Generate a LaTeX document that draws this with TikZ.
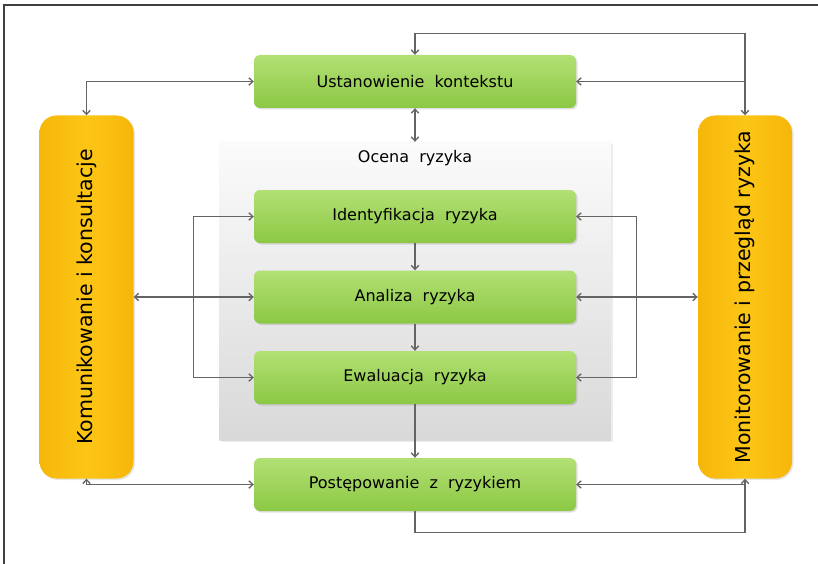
\documentclass[tikz,border=0pt]{standalone}
\usepackage{fontspec}
\setmainfont{DejaVu Sans}
\usetikzlibrary{arrows.meta,shadows}
\definecolor{stagetop}{RGB}{178,224,116}
\definecolor{stagebot}{RGB}{140,200,68}
\definecolor{sidemid}{RGB}{252,198,22}
\definecolor{sideedge}{RGB}{246,182,10}
\definecolor{linkgray}{RGB}{100,100,100}
\tikzset{%
  >={Straight Barb[width=2.6mm,length=1.4mm]},
  % Specifications for style of nodes:
            base/.style = {rectangle, draw=none, text=black,
                           text centered},
           stage/.style = {base, rounded corners=6pt,
                           minimum width=322pt, minimum height=53pt,
                           top color=stagetop, bottom color=stagebot,
                           drop shadow={opacity=0.25, shadow xshift=1.5pt,
                                        shadow yshift=-1.5pt},
                           font=\fontsize{16}{19}\selectfont},
            side/.style = {base, rounded corners=17pt,
                           minimum width=94pt, minimum height=363pt,
                           left color=sideedge, right color=sideedge,
                           middle color=sidemid,
                           drop shadow={opacity=0.2, shadow xshift=1.5pt,
                                        shadow yshift=-1.5pt},
                           font=\fontsize{20.5}{24}\selectfont},
            area/.style = {rectangle, minimum width=391pt, minimum height=298pt,
                           top color=gray!3, bottom color=gray!30,
                           drop shadow={opacity=0.15, shadow xshift=2pt,
                                        shadow yshift=-2pt}},
            link/.style = {draw=linkgray, line width=1.3pt},
}
\begin{document}
\begin{tikzpicture}[x=1pt, y=-1pt, node distance=80.5pt]

  \useasboundingbox (0,0) rectangle (818,564);
  \draw[line width=1.3pt, black!75] (4,564) |- (818,5);

  \node (ust)      [stage] at (415,81.5)                   {Ustanowienie\ \ kontekstu};
  \node (ocena)    [area, below of=ust, yshift=-129pt]     {};
  \node (ocenatitle) [font=\fontsize{16}{19}\selectfont]
                   at ([yshift=-16pt]ocena.north)          {Ocena\ \ ryzyka};
  \node (ident)    [stage, below of=ust, yshift=-54.5pt]   {Identyfikacja\ \ ryzyka};
  \node (analiza)  [stage, below of=ident]                 {Analiza\ \ ryzyka};
  \node (ewal)     [stage, below of=analiza]               {Ewaluacja\ \ ryzyka};
  \node (post)     [stage, below of=ewal, yshift=-26.5pt]  {Postępowanie\ \ z\ \ ryzykiem};

  \node (komm)     [side, left of=analiza, xshift=-248pt]
                   {\rotatebox{90}{Komunikowanie i konsultacje}};
  \node (mon)      [side, right of=analiza, xshift=249.5pt]
                   {\rotatebox{90}{Monitorowanie i przegląd ryzyka}};

  % main column
  \draw[link, <->] (ust) -- (ust |- ocena.north);
  \draw[link, ->] (ident)   -- (analiza);
  \draw[link, ->] (analiza) -- (ewal);
  \draw[link, ->] (ewal)    -- (post);

  % communication side
  \draw[link, <->] (ust.west) -| (komm.north);
  \draw[link, <->] (komm) -- (analiza);
  \draw[link, <->] (ident.west) -- ++(-60,0) |- (ewal.west);
  \draw[link, <->] (komm.south) |- (post.west);

  % monitoring side
  \draw[link, <->] (ust.north) -- ++(0,-21) -| (mon.north);
  \draw[link, ->] (mon.north |- ust.east) -- (ust.east);
  \draw[link, <->] (analiza) -- (mon);
  \draw[link, <->] (ident.east) -- ++(60,0) |- (ewal.east);
  \draw[link, ->] (post.south) -- ++(0,21) -| (mon.south);
  \draw[link, ->] (post.east -| mon.south) -- (post.east);

\end{tikzpicture}
\end{document}
